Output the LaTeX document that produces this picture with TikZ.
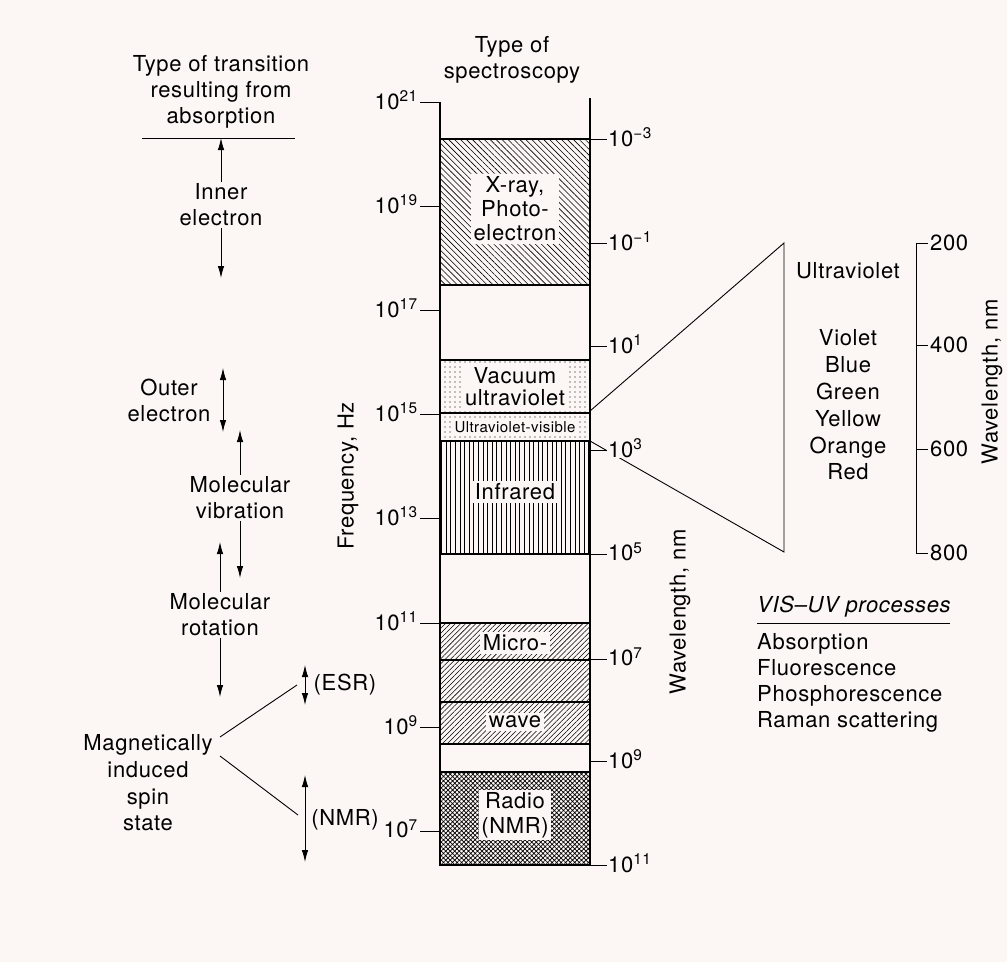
\documentclass[tikz,border=0pt]{standalone}
\usepackage{fontspec}
\setmainfont{TeX Gyre Heros}[LetterSpace=3]
\usetikzlibrary{arrows.meta,patterns.meta}
\definecolor{paper}{RGB}{252,247,244}

\begin{document}
\begin{tikzpicture}[x=1pt, y=-1pt,
    every node/.style={font=\fontsize{22}{26}\selectfont, align=center, inner sep=2pt},
    fine/.style={line width=0.9pt},
    tip/.style={arrows={-Latex[length=12pt,width=6.5pt]}},
    tips/.style={arrows={Latex[length=12pt,width=6.5pt]-Latex[length=12pt,width=6.5pt]}},
    band/.style={draw, line width=1.1pt},
    gap/.style={fill=paper, inner sep=2.5pt},
    hatchxr/.style={pattern={Lines[angle=-45,distance=4.2pt,line width=0.6pt]}},
    hatchmw/.style={pattern={Lines[angle=45,distance=3.6pt,line width=0.55pt]}},
    hatchir/.style={pattern={Lines[angle=90,distance=4.6pt,line width=0.7pt]}},
    dotsuv/.style={pattern={Dots[distance=5pt,radius=0.6pt]}},
    crossrd/.style={pattern={Hatch[angle=45,distance=3.2pt,line width=0.7pt]}}]
	\fill[paper] (0,0) rectangle (1007,962);
	\useasboundingbox (0,0) rectangle (1007,962);

	% left column: transitions
	\node (transhead) at (221,92) {Type of transition\\resulting from\\absorption};
	\coordinate (rule-l) at (142,138);
	\coordinate (rule-r) at (295,138);
	\draw[fine] (rule-l) -- (rule-r);

	\node (inner) at (221,205) {Inner\\electron};
	\coordinate (inner-end) at (221,278);
	\draw[tip,fine] (inner.north) -- (inner.north |- rule-l);
	\draw[tip,fine] (inner.south) -- (inner-end);

	\node (outer) at (169,400) {Outer\\electron};
	\coordinate (outer-t) at (223,368);
	\coordinate (outer-b) at (223,432);
	\draw[tips,fine] (outer-t) -- (outer-b);

	\node (vib) at (240,498) {Molecular\\vibration};
	\coordinate (vib-t) at (240,430);
	\coordinate (vib-b) at (240,578);
	\draw[tip,fine] (vib.north) -- (vib-t);
	\draw[tip,fine] (vib.south) -- (vib-b);

	\node (rot) at (220,615) {Molecular\\rotation};
	\coordinate (rot-t) at (220,542);
	\coordinate (rot-b) at (220,697);
	\draw[tip,fine] (rot.north) -- (rot-t);
	\draw[tip,fine] (rot.south) -- (rot-b);

	\node[font=\fontsize{22}{26.7}\selectfont] (mag) at (148,783) {Magnetically\\induced\\spin\\state};
	\coordinate (mag-u) at (220,737);
	\coordinate (mag-d) at (220,756);
	\coordinate (esr-j) at (297,685);
	\coordinate (nmr-j) at (298,815);
	\draw[fine] (mag-u) -- (esr-j);
	\draw[fine] (mag-d) -- (nmr-j);

	\coordinate (esr-t) at (305,665);
	\coordinate (esr-b) at (305,705);
	\draw[tips,fine] (esr-t) -- (esr-b);
	\node (esr) at (345,685) {(ESR)};
	\coordinate (nmr-t) at (305,775);
	\coordinate (nmr-b) at (305,862);
	\draw[tips,fine] (nmr-t) -- (nmr-b);
	\node (nmr) at (345,820) {(NMR)};

	% spectrum column
	\node (spechead) at (512,60) {Type of\\spectroscopy};
	\node[rotate=90] (freq) at (348,476) {Frequency, Hz};

	\draw[band,hatchxr] (440,139) rectangle (590,285);
	\draw[band,dotsuv] (440,360) rectangle (590,413);
	\draw[band,dotsuv] (440,413) rectangle (590,441);
	\draw[band,hatchir] (440,441) rectangle (590,554);
	\draw[band,hatchmw] (440,623) rectangle (590,660);
	\draw[band,hatchmw] (440,660) rectangle (590,702);
	\draw[band,hatchmw] (440,702) rectangle (590,744);
	\draw[band,crossrd] (440,772) rectangle (590,865);
	\draw[band] (440,102) -- (440,865);
	\draw[band] (590,98) -- (590,865);

	\node[gap,font=\fontsize{22}{24}\selectfont] (xray) at (515,209) {X-ray,\\Photo-\\electron};
	\node[gap,font=\fontsize{22}{22}\selectfont] (vuv) at (515,387) {Vacuum\\ultraviolet};
	\node[gap,inner sep=1.5pt,font=\fontsize{15}{18}\selectfont] (uvvis) at (515,427) {Ultraviolet-visible};
	\node[gap] (ir) at (515,492) {Infrared};
	\node[gap] (micro) at (515,643) {Micro-};
	\node[gap] (wave) at (515,722) {wave};
	\node[gap,font=\fontsize{22}{25}\selectfont] (radio) at (515,815) {Radio\\(NMR)};

	\foreach \e/\y in {21/102,19/206,17/310,15/414,13/518,11/623,9/727,7/831}{
		\node[anchor=east] (f\e) at (420,\y-2) {10\textsuperscript{\e}};
		\draw[fine] (f\e.east |- 0,\y) -- (440,\y);
	}

	% zoom into the visible region
	\coordinate (cone-u) at (590,411);
	\coordinate (cone-l) at (590,441);
	\coordinate (tri-t) at (784,243);
	\coordinate (tri-b) at (784,552);
	\draw[fine] (cone-u) -- (tri-t) -- (tri-b) -- (cone-l);

	\foreach \e/\y [count=\i] in {−3/139,−1/243,1/346,3/450,5/554,7/659,9/761,11/865}{
		\node[anchor=west,fill=paper,inner sep=1pt] (w\i) at (607,\y-2) {10\textsuperscript{\e}};
		\draw[fine] (590,\y) -- (w\i.west |- 0,\y);
	}
	\node[rotate=90] (wl) at (680,612) {Wavelength, nm};

	\node (uv) at (848,271) {Ultraviolet};
	\node[font=\fontsize{22}{26.8}\selectfont] (colours) at (848,405) {Violet\\Blue\\Green\\Yellow\\Orange\\Red};

	\draw[fine] (925,243) -- (916,243) -- (916,553) -- (925,553);
	\foreach \v/\y in {200/243,400/345,600/449,800/553}{
		\node[anchor=west] (s\v) at (928,\y) {\v};
		\draw[fine] (916,\y) -- (s\v.west);
	}
	\node[rotate=90] (wl2) at (992,382) {Wavelength, nm};

	% VIS-UV processes
	\node[anchor=west,font=\itshape\fontsize{22}{26}\selectfont] (proc) at (755,607) {VIS–UV processes};
	\draw[fine] (757,623) -- (950,623);
	\node[anchor=north west,align=left] (proclist) at (755,631) {Absorption\\Fluorescence\\Phosphorescence\\Raman scattering};
\end{tikzpicture}
\end{document}
